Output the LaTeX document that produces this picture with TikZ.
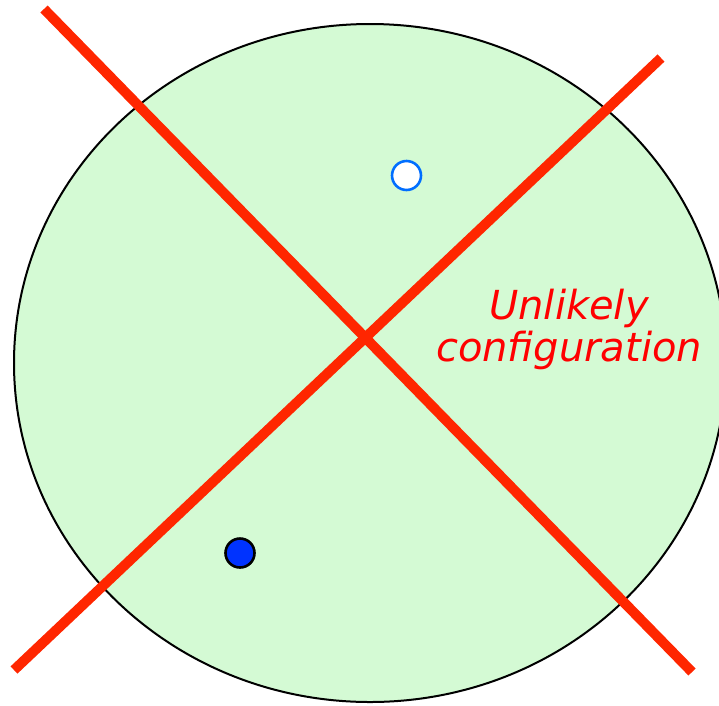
\documentclass[tikz,border=0pt]{standalone}
\usepackage{fontspec}
\newfontfamily\labelfont{DejaVu Sans}
\definecolor{regiongreen}{RGB}{212,250,212}
\definecolor{crossred}{RGB}{255,38,0}
\definecolor{openblue}{RGB}{0,110,255}
\definecolor{fillblue}{RGB}{0,51,255}
\tikzset{
  region/.style={draw=black, line width=2pt, fill=regiongreen},
  crossline/.style={draw=crossred, line width=10pt, line cap=butt},
  opendot/.style={circle, draw=openblue, line width=2.6pt, fill=white, minimum size=29pt, inner sep=0pt},
  filldot/.style={circle, draw=black, line width=2.6pt, fill=fillblue, minimum size=29pt, inner sep=0pt},
  caption/.style={text=red, font=\labelfont\itshape\fontsize{40}{42}\selectfont, align=center, inner sep=0pt}
}
\begin{document}
\begin{tikzpicture}[x=1pt, y=-1pt]
\useasboundingbox (0,0) rectangle (719,705);
\draw[region] (370,363) ellipse [x radius=356, y radius=339];
\coordinate (a1) at (44,9);
\coordinate (a2) at (692,672);
\coordinate (b1) at (14,670);
\coordinate (b2) at (661,58);
\draw[crossline] (a1) -- (a2);
\draw[crossline] (b1) -- (b2);
\node[opendot] (open) at (406.5,175.5) {};
\node[filldot] (filled) at (240,553) {};
\node[caption] (lbl) at (569,329) {Unlikely\\configuration};
\end{tikzpicture}
\end{document}
